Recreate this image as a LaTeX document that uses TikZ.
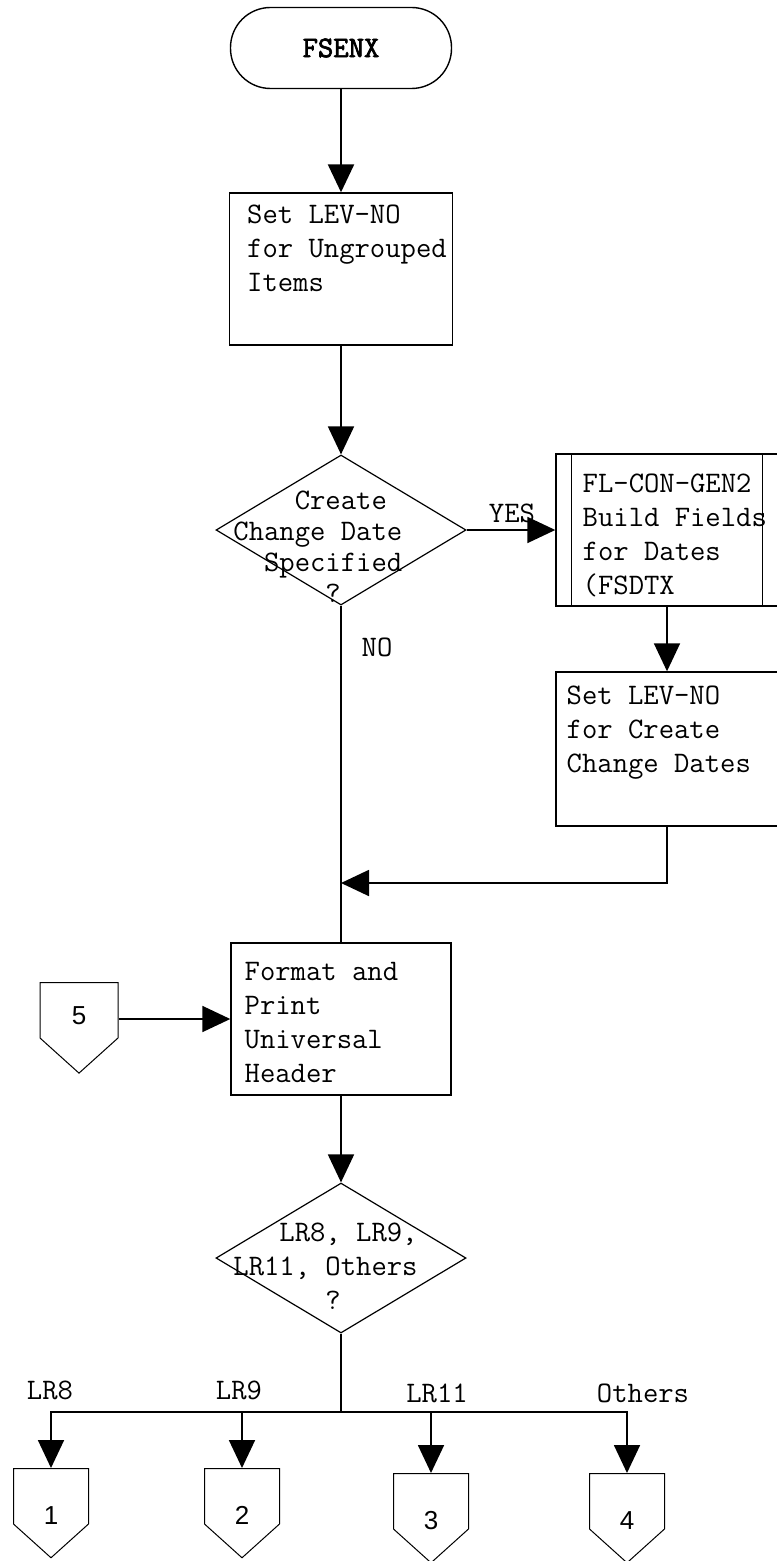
\documentclass[tikz,border=0pt]{standalone}
\usepackage{fontspec}
\setsansfont{Liberation Sans}
\newfontfamily\termfont[FakeBold=2.5]{Latin Modern Mono}
\usetikzlibrary{shapes.geometric, shapes.symbols, arrows.meta, positioning, calc}
\newcommand{\chartfont}{\ttfamily\fontsize{14.9}{17}\selectfont}
\newcommand{\lowdigit}[2][-14pt]{\raisebox{#1}[0pt][0pt]{#2}}
\tikzset{
	terminal/.style ={rectangle, rounded corners=20pt, draw=black, line width=0.7pt, minimum width=110.5pt, minimum height=40.5pt, font=\termfont\fontsize{14.9}{17}\selectfont},
	process/.style  ={rectangle, draw=black, line width=0.7pt, minimum width=111.5pt, minimum height=76pt},
	boxtext/.style  ={anchor=north west, align=left, inner sep=0pt, font=\chartfont},
	decision/.style ={diamond, draw=black, line width=0.6pt, minimum width=125pt, minimum height=75pt, inner sep=0pt},
	offpage/.style  ={signal, signal to=south, signal from=nowhere, signal pointer angle=96, draw=black, line width=0.5pt, minimum width=37.5pt, minimum height=31pt, inner sep=0pt, font=\sffamily\fontsize{13}{15}\selectfont},
	flowarrow/.style={-{Triangle[length=14pt, width=13pt]}, line width=0.9pt},
	flowline/.style ={line width=0.7pt},
	tag/.style      ={font=\chartfont, inner sep=1pt},
}

\begin{document}
\begin{tikzpicture}[x=0.5pt, y=-0.5pt]
	\useasboundingbox (0,0) rectangle (776,1561);
	% main column
	\node[terminal] (fsenx) at (341,48) {FSENX};
	\node[process] (setlev) at (341,269) {};
	\node[boxtext] (setlev-t) at ([xshift=9pt, yshift=-6pt]setlev.north west) {Set LEV-NO\\for Ungrouped\\Items};
	\node[decision] (dcreate) at (341,530) {};
	\node[boxtext, font=\ttfamily\fontsize{14.9}{15.5}\selectfont] (dcreate-t) at (233,491) {\hphantom{XXXX}Create\\Change Date\\\hphantom{XX}Specified\\\hphantom{XXXXXX}?};
	% date branch
	\node[process, minimum width=111pt] (fldgen) at (667,530) {};
	\draw[flowline] ([xshift=8pt]fldgen.north west) -- ([xshift=8pt]fldgen.south west);
	\draw[flowline] ([xshift=-8pt]fldgen.north east) -- ([xshift=-8pt]fldgen.south east);
	\node[boxtext] (fldgen-t) at ([xshift=13.5pt, yshift=-10pt]fldgen.north west) {FL-CON-GEN2\\Build Fields\\for Dates\\(FSDTX};
	\node[process, minimum width=111pt, minimum height=77pt] (crdates) at (667,749) {};
	\node[boxtext] (crdates-t) at ([xshift=5.5pt, yshift=-7pt]crdates.north west) {Set LEV-NO\\for Create\\Change Dates};
	\node[process, minimum width=110pt] (fmt) at (341,1019) {};
	\node[boxtext] (fmt-t) at ([xshift=7pt, yshift=-10pt]fmt.north west) {Format and\\Print\\Universal\\Header};
	\node[offpage, minimum width=39pt, anchor=north] (c5) at (79,982) {\lowdigit[-7pt]{5}};
	\node[decision] (dcase) at (341,1258) {};
	\node[boxtext, font=\ttfamily\fontsize{14.9}{17}\selectfont] (dcase-t) at (233,1223) {\hphantom{XXX}LR8, LR9,\\LR11, Others\\\hphantom{XXXXXX}?};
	% exits
	\node[offpage, anchor=north] (c1) at (51,1468) {\lowdigit{1}};
	\node[offpage, anchor=north] (c2) at (242,1468) {\lowdigit{2}};
	\node[offpage, anchor=north] (c3) at (431,1473) {\lowdigit{3}};
	\node[offpage, anchor=north] (c4) at (627,1473) {\lowdigit{4}};
	\node[tag] (lr8) at (50,1390) {LR8};
	\node[tag] (lr9) at (239,1390) {LR9};
	\node[tag] (lr11) at (437,1393) {LR11};
	\node[tag] (others) at (643,1393) {Others};
	\node[tag] (yes) at (512,513) {YES};
	\node[tag] (no) at (377,647) {NO};
	\coordinate (join) at (341,883);
	\coordinate (fan) at (341,1412);
	% connectors
	\draw[flowarrow, line width=1.2pt] (fsenx) -- (setlev);
	\draw[flowarrow] (setlev) -- (dcreate);
	\draw[flowarrow] (dcreate.east) -- (fldgen.west);
	\draw[flowarrow] (fldgen) -- (crdates);
	\draw[flowarrow] (crdates.south) |- (join);
	\draw[flowline] (dcreate.south) -- (fmt.north);
	\draw[flowarrow] (c5.east |- fmt.west) -- (fmt.west);
	\draw[flowarrow] (fmt) -- (dcase);
	\draw[flowline] (dcase.south) -- (fan);
	\foreach \c in {c1,c2,c3,c4}
		\draw[flowarrow] (fan) -| (\c.north);
\end{tikzpicture}
\end{document}
